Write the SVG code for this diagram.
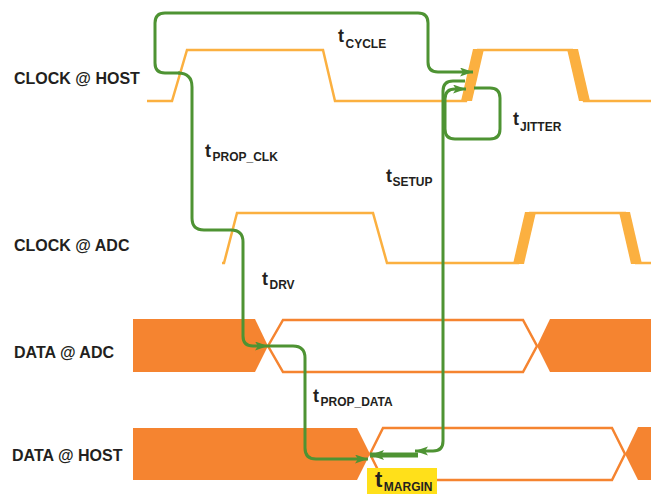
<svg xmlns="http://www.w3.org/2000/svg" width="651" height="494" viewBox="0 0 651 494">
<defs>
<style>
.lbl{font-family:"Liberation Sans",Arial,sans-serif;font-weight:bold;font-size:16px;fill:#231f20}
.t{font-family:"Liberation Sans",Arial,sans-serif;font-weight:bold;font-size:18px;fill:#231f20}
.sub{font-size:12px}
.clk{fill:none;stroke:#fbb040;stroke-width:2.5;stroke-linejoin:miter}
.band{fill:#fbb040}
.dfill{fill:#f58430}
.dline{fill:none;stroke:#f58430;stroke-width:2.5}
.g{fill:none;stroke:#4e9333;stroke-width:3}
.gm{fill:none;stroke:#4e9333;stroke-width:5}
</style>
<marker id="ah" markerUnits="userSpaceOnUse" markerWidth="14" markerHeight="10" refX="13" refY="4.5" orient="auto">
<path d="M0,0 L13,4.5 L0,9 L3,4.5 z" fill="#4e9333"/>
</marker>
<marker id="ahm" markerUnits="userSpaceOnUse" markerWidth="15" markerHeight="11" refX="14" refY="5" orient="auto">
<path d="M0,0 L14,5 L0,10 L3,5 z" fill="#4e9333"/>
</marker>
</defs>

<g id="clock-host">
<path class="clk" d="M147,101 H172 L187,50 H323 L335,101 H466 L478,50 H572 L584,101 H651"/>
<polygon class="band" points="461,101 472,101 484,49 473,49"/>
<polygon class="band" points="567,49 578,49 590,101 579,101"/>
<text class="lbl" x="14" y="84">CLOCK @ HOST</text>
</g>

<g id="clock-adc">
<path class="clk" d="M222,263 H224 L237,213 H373 L387,263 H518 L530,213 H625 L636,263 H651"/>
<polygon class="band" points="513,264 524,264 536,212 525,212"/>
<polygon class="band" points="619,212 630,212 642,264 631,264"/>
<text class="lbl" x="14" y="251">CLOCK @ ADC</text>
</g>

<g id="data-adc">
<polygon class="dfill" points="133,319 255,319 268,346 255,372 133,372"/>
<polygon class="dline" points="268,346 283,320 523,320 537,346 523,372 283,372"/>
<polygon class="dfill" points="537,346 550,319 651,319 651,372 550,372"/>
<text class="lbl" x="14" y="358">DATA @ ADC</text>
</g>

<g id="data-host">
<polygon class="dfill" points="133,428 357,428 370,454 357,480 133,480"/>
<polygon class="dline" points="370,454 383,428 612,428 625,454 612,480 383,480"/>
<polygon class="dfill" points="625,454 638,427 651,427 651,480 638,480"/>
<text class="lbl" x="12" y="461">DATA @ HOST</text>
</g>

<g id="connectors">
<path class="g" d="M180,73 H165 Q155,73 155,63 V23 Q155,13 165,13 H418 Q428,13 428,23 V62 Q428,72 438,72 H473" marker-end="url(#ah)"/>
<path class="g" d="M178,73 Q192,73 192,87 V218 Q192,230 204,230 H231 Q243,230 243,242 V336 Q243,346 253,346 H268" marker-end="url(#ah)"/>
<path class="g" d="M268,346 H293 Q305,346 305,358 V448 Q305,459 316,459 H368" marker-end="url(#ah)"/>
<path class="g" d="M465,81 H453 Q443,81 443,91 V441 Q443,451 433,451 H415" marker-end="url(#ah)"/>
<path class="g" d="M474,88 H490 Q500,88 500,98 V129 Q500,139 490,139 H455 Q445,139 445,129 V99 Q445,89 455,89 H466" marker-end="url(#ah)"/>
<path class="gm" d="M418,455 H370" marker-end="url(#ahm)"/>
</g>

<g id="labels">
<text class="t" x="338" y="42">t<tspan class="sub" dx="1.5" dy="6">CYCLE</tspan></text>
<text class="t" x="513" y="125">t<tspan class="sub" dx="1" dy="6">JITTER</tspan></text>
<text class="t" x="205" y="157">t<tspan class="sub" dx="1.5" dy="4">PROP_CLK</tspan></text>
<text class="t" x="386" y="182">t<tspan class="sub" dx="0.5" dy="4">SETUP</tspan></text>
<text class="t" x="262" y="285">t<tspan class="sub" dx="1.5" dy="4">DRV</tspan></text>
<text class="t" x="313" y="402">t<tspan class="sub" dx="1.5" dy="4">PROP_DATA</tspan></text>
</g>

<g id="margin">
<rect x="367" y="468" width="70" height="26" fill="#ffe01a"/>
<text class="t" x="375" y="487" style="font-size:22px">t<tspan class="sub" dx="1.5" dy="4">MARGIN</tspan></text>
</g>
</svg>
